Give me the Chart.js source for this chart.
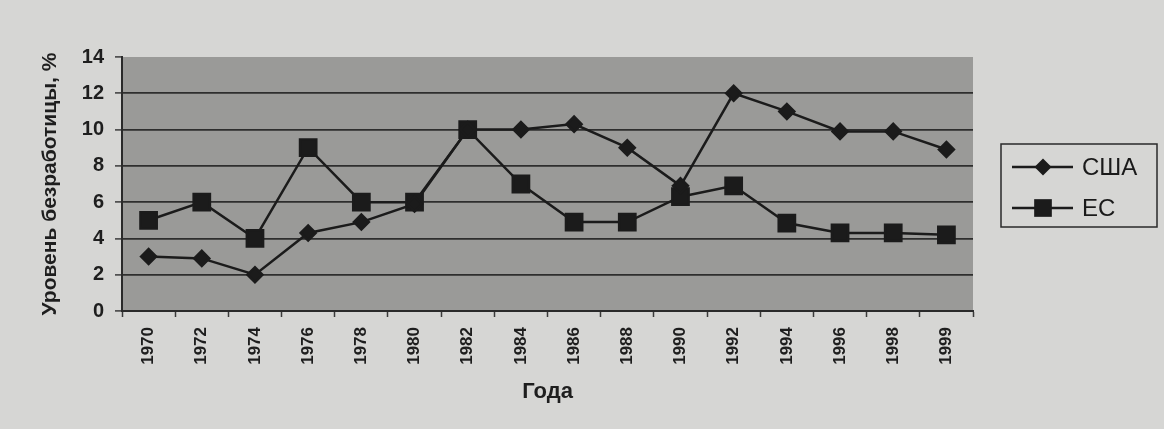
<!DOCTYPE html>
<html>
<head>
<meta charset="utf-8">
<script src="https://cdn.jsdelivr.net/npm/chart.js@4/dist/chart.umd.min.js"></script>
<style>
  html, body { margin: 0; padding: 0; background: #d6d6d4; }
  #wrap { width: 1164px; height: 429px; position: relative; }
</style>
</head>
<body>
<div id="wrap"><canvas id="GraficoDesemprego" width="1164" height="429"></canvas></div>
<script>
// годы и значения
var anos = ["1970", "1972", "1974", "1976", "1978", "1980", "1982", "1984",
            "1986", "1988", "1990", "1992", "1994", "1996", "1998", "1999"];
var valoresEUA = [3, 2.9, 2, 4.3, 4.9, 5.9, 10, 10, 10.3, 9, 6.9, 12, 11, 9.9, 9.9, 8.9];
var valoresUE = [5, 6, 4, 9, 6, 6, 10, 7, 4.9, 4.9, 6.3, 6.9, 4.85, 4.3, 4.3, 4.2];
var rotuloEUA = "США";
var rotuloUE = "ЕС";
var marcasY = [0, 2, 4, 6, 8, 10, 12, 14];

var corLinha = "#1b1b1b";

function desenharMarca(ctx, estilo, x, y, r) {
    ctx.beginPath();
    if (estilo === "rectRot") {
        ctx.moveTo(x, y - r);
        ctx.lineTo(x + r, y);
        ctx.lineTo(x, y + r);
        ctx.lineTo(x - r, y);
        ctx.closePath();
    } else {
        var s = r * Math.SQRT1_2;
        ctx.rect(x - s, y - s, 2 * s, 2 * s);
    }
    ctx.fill();
}

var fundoGrafico = {
    id: "fundoGrafico",
    beforeDraw: function (chart) {
        var a = chart.chartArea, ctx = chart.ctx;
        ctx.save();
        ctx.fillStyle = "#9a9a98";
        ctx.fillRect(a.left, a.top, a.right - a.left, a.bottom - a.top);
        ctx.restore();
    }
};

var legendaCaixa = {
    id: "legendaCaixa",
    afterDraw: function (chart) {
        var ctx = chart.ctx;
        var x0 = 1001, y0 = 144, w = 156, h = 83;
        ctx.save();
        ctx.strokeStyle = "#2a2a2a";
        ctx.lineWidth = 1.5;
        ctx.strokeRect(x0, y0, w, h);
        ctx.font = "24px 'Liberation Sans', Arial, sans-serif";
        ctx.textBaseline = "middle";
        chart.data.datasets.forEach(function (ds, i) {
            var cy = y0 + 23 + i * 41;
            ctx.strokeStyle = corLinha;
            ctx.lineWidth = 2.5;
            ctx.beginPath();
            ctx.moveTo(x0 + 11, cy);
            ctx.lineTo(x0 + 72, cy);
            ctx.stroke();
            ctx.fillStyle = corLinha;
            desenharMarca(ctx, ds.pointStyle, x0 + 42, cy, ds.pointStyle === "rect" ? 12.5 : 8.5);
            ctx.fillStyle = "#1a1a1a";
            ctx.fillText(ds.label, x0 + 81, cy + 1);
        });
        ctx.restore();
    }
};

new Chart(document.getElementById("GraficoDesemprego"), {
    type: 'line',
    data: {
        labels: anos,
        datasets: [{
            label: rotuloEUA,
            data: valoresEUA,
            borderColor: corLinha,
            backgroundColor: corLinha,
            borderWidth: 2.5,
            pointStyle: "rectRot",
            pointRadius: 7.5,
            pointHoverRadius: 7.5,
            fill: false,
            tension: 0
        }, {
            label: rotuloUE,
            data: valoresUE,
            borderColor: corLinha,
            backgroundColor: corLinha,
            borderWidth: 2.5,
            pointStyle: "rect",
            pointRadius: 11.5,
            pointHoverRadius: 11.5,
            fill: false,
            tension: 0
        }]
    },
    options: {
        responsive: false,
        animation: false,
        events: [],
        layout: { padding: { top: 57, right: 191, bottom: 0, left: 0 } },
        plugins: {
            legend: { display: false },
            title: { display: false },
            tooltip: { enabled: false }
        },
        scales: {
            x: {
                offset: true,
                grid: {
                    offset: true,
                    drawOnChartArea: false,
                    drawTicks: true,
                    tickLength: 6,
                    tickColor: "#3a3a3a",
                    tickWidth: 1.5
                },
                border: { display: true, color: "#2a2a2a", width: 2 },
                ticks: {
                    autoSkip: false,
                    minRotation: 90,
                    maxRotation: 90,
                    padding: 10,
                    color: "#1e1e1e",
                    font: { family: "'Liberation Sans', Arial, sans-serif", size: 17, weight: "bold" }
                },
                title: {
                    display: true,
                    text: "Года",
                    color: "#1e1e1e",
                    font: { family: "'Liberation Sans', Arial, sans-serif", size: 22, weight: "bold" },
                    padding: { top: 0, bottom: 24 }
                },
                afterFit: function (scale) { scale.height = 118; }
            },
            y: {
                min: 0,
                max: 14,
                afterBuildTicks: function (scale) {
                    scale.ticks = marcasY.map(function (v) { return { value: v }; });
                },
                grid: {
                    color: function (c) { return c.tick && c.tick.value === 14 ? "rgba(0,0,0,0)" : "#2e2e2e"; },
                    lineWidth: 1.8,
                    drawTicks: true,
                    tickLength: 7,
                    tickColor: "#3a3a3a",
                    tickWidth: 1.5
                },
                border: { display: true, color: "#2a2a2a", width: 2 },
                ticks: {
                    padding: 11,
                    color: "#1e1e1e",
                    font: { family: "'Liberation Sans', Arial, sans-serif", size: 20, weight: "bold" }
                },
                title: {
                    display: true,
                    text: "Уровень безработицы, %",
                    color: "#1e1e1e",
                    font: { family: "'Liberation Sans', Arial, sans-serif", size: 21, weight: "bold" },
                    padding: { top: 38, bottom: 0 }
                },
                afterFit: function (scale) { scale.width = 122; }
            }
        }
    },
    plugins: [fundoGrafico, legendaCaixa]
});
</script>
</body>
</html>
